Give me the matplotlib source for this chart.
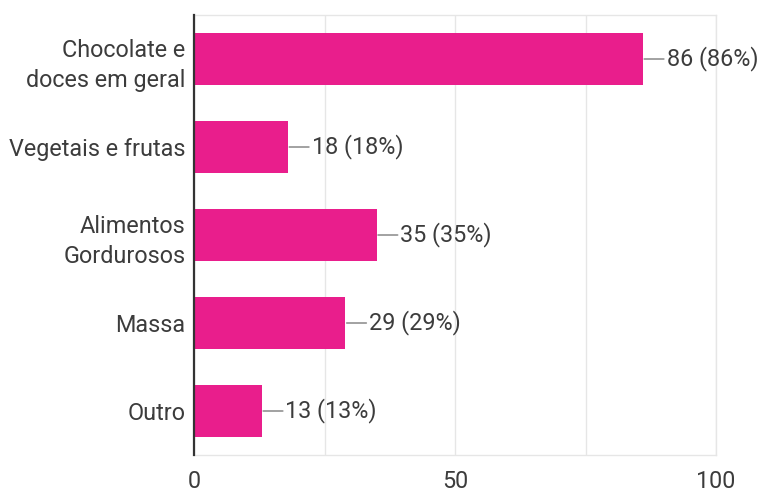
import matplotlib
matplotlib.use("Agg")
import matplotlib.pyplot as plt
from matplotlib.ticker import MultipleLocator

categories = ["Chocolate e\ndoces em geral", "Vegetais e frutas", "Alimentos\nGordurosos", "Massa", "Outro"]
counts = [86, 18, 35, 29, 13]
percents = [86, 18, 35, 29, 13]
x_ticks = [0, 50, 100]

plt.rcParams['font.family'] = ['Roboto', 'DejaVu Sans']

bar_color = "#E91E8C"
text_color = "#3c3c3c"
grid_color = "#e6e6e6"

fig = plt.figure(figsize=(7.63, 4.92), dpi=100)
ax = fig.add_axes([0.2543, 0.0752, 0.6841, 0.8943])

ypos = list(range(len(categories)))
ax.barh(ypos, counts, height=0.6, color=bar_color, zorder=3)

ax.set_xlim(0, 100)
ax.set_ylim(len(categories) - 0.5, -0.5)

ax.set_yticks(ypos)
ax.set_yticklabels(categories, fontsize=16.8, color=text_color, linespacing=1.4)
ax.set_xticks(x_ticks)
ax.set_xticklabels([str(t) for t in x_ticks], fontsize=16.8, color=text_color)
ax.xaxis.set_minor_locator(MultipleLocator(25))
ax.tick_params(axis='both', which='both', length=0)
ax.tick_params(axis='y', pad=6)
ax.tick_params(axis='x', pad=11)

ax.grid(axis='x', which='both', color=grid_color, lw=1, zorder=0)

for side in ("top", "right", "bottom"):
    ax.spines[side].set_color(grid_color)
    ax.spines[side].set_linewidth(1)
ax.spines["left"].set_color("#333333")
ax.spines["left"].set_linewidth(1.6)
ax.spines["left"].set_zorder(4)

for i, (c, p) in enumerate(zip(counts, percents)):
    ax.annotate(f"{c} ({p}%)", xy=(c, i), xytext=(17, 0), textcoords="offset points",
                ha="left", va="center", fontsize=16.8, color=text_color,
                arrowprops=dict(arrowstyle="-", color="#9a9a9a", lw=1.3,
                                shrinkA=0, shrinkB=1),
                annotation_clip=False, zorder=5)

fig.savefig("out.png", dpi=100, facecolor="white")
